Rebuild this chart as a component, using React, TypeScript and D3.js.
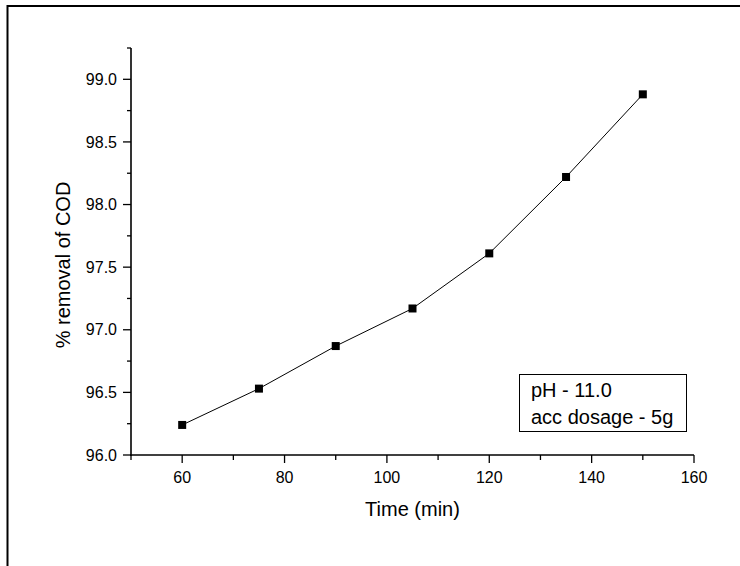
import React from "react";
import * as d3 from "d3";

const times = [60, 75, 90, 105, 120, 135, 150];
const removal = [96.24, 96.53, 96.87, 97.17, 97.61, 98.22, 98.88];
const xMajor = [60, 80, 100, 120, 140, 160];
const xMinor = [50, 70, 90, 110, 130, 150];
const yMajor = [96.0, 96.5, 97.0, 97.5, 98.0, 98.5, 99.0];
const yMinor = [96.25, 96.75, 97.25, 97.75, 98.25, 98.75, 99.25];
const legendLines = ["pH - 11.0", "acc dosage - 5g"];

const W = 740;
const H = 566;
const FONT = "'Liberation Sans', Arial, sans-serif";

export default function App() {
  const x = d3.scaleLinear().domain([50, 160]).range([131, 694]);
  const y = d3.scaleLinear().domain([96, 99.25]).range([455, 48]);
  const line = d3
    .line<number>()
    .x((_, i) => x(times[i]))
    .y((d) => y(d));
  const x0 = x(50);
  const y0 = y(96);
  return (
    <svg
      width={W}
      height={H}
      style={{ position: "absolute", left: 0, top: 0, background: "#fff" }}
      fontFamily={FONT}
    >
      <rect x={0} y={0} width={W} height={H} fill="#fff" />
      <rect x={7.5} y={6} width={W + 20} height={H + 20} fill="none" stroke="#000" strokeWidth={2} />
      {/* axes */}
      <line x1={x0} y1={y(99.25)} x2={x0} y2={y0 + 1} stroke="#000" strokeWidth={1.6} />
      <line x1={x0 - 1} y1={y0} x2={x(160)} y2={y0} stroke="#000" strokeWidth={1.6} />
      {yMajor.map((v) => (
        <g key={"ym" + v}>
          <line x1={x0 - 8} x2={x0} y1={y(v)} y2={y(v)} stroke="#000" strokeWidth={1.3} />
          <text x={x0 - 14} y={y(v)} dy="0.35em" textAnchor="end" fontSize={16}>
            {v.toFixed(1)}
          </text>
        </g>
      ))}
      {yMinor.map((v) => (
        <line key={"yn" + v} x1={x0 - 4} x2={x0} y1={y(v)} y2={y(v)} stroke="#000" strokeWidth={1.3} />
      ))}
      {xMajor.map((v) => (
        <g key={"xm" + v}>
          <line x1={x(v)} x2={x(v)} y1={y0} y2={y0 + 8} stroke="#000" strokeWidth={1.3} />
          <text x={x(v)} y={y0 + 28} textAnchor="middle" fontSize={16}>
            {v}
          </text>
        </g>
      ))}
      {xMinor.map((v) => (
        <line key={"xn" + v} x1={x(v)} x2={x(v)} y1={y0} y2={y0 + 5} stroke="#000" strokeWidth={1.3} />
      ))}
      <text x={(x0 + x(160)) / 2} y={y0 + 61} textAnchor="middle" fontSize={20}>
        Time (min)
      </text>
      <text
        transform={`translate(70, 265) rotate(-90)`}
        textAnchor="middle"
        fontSize={20}
      >
        % removal of COD
      </text>
      {/* data */}
      <path d={line(removal) || ""} fill="none" stroke="#000" strokeWidth={1} />
      {removal.map((v, i) => (
        <rect key={i} x={x(times[i]) - 4} y={y(v) - 4} width={8} height={8} fill="#000" />
      ))}
      {/* legend */}
      <rect x={519.5} y={374.5} width={167} height={57} fill="#fff" stroke="#000" strokeWidth={1} />
      {legendLines.map((t, i) => (
        <text key={t} x={531} y={397 + i * 26.5} fontSize={20}>
          {t}
        </text>
      ))}
    </svg>
  );
}
